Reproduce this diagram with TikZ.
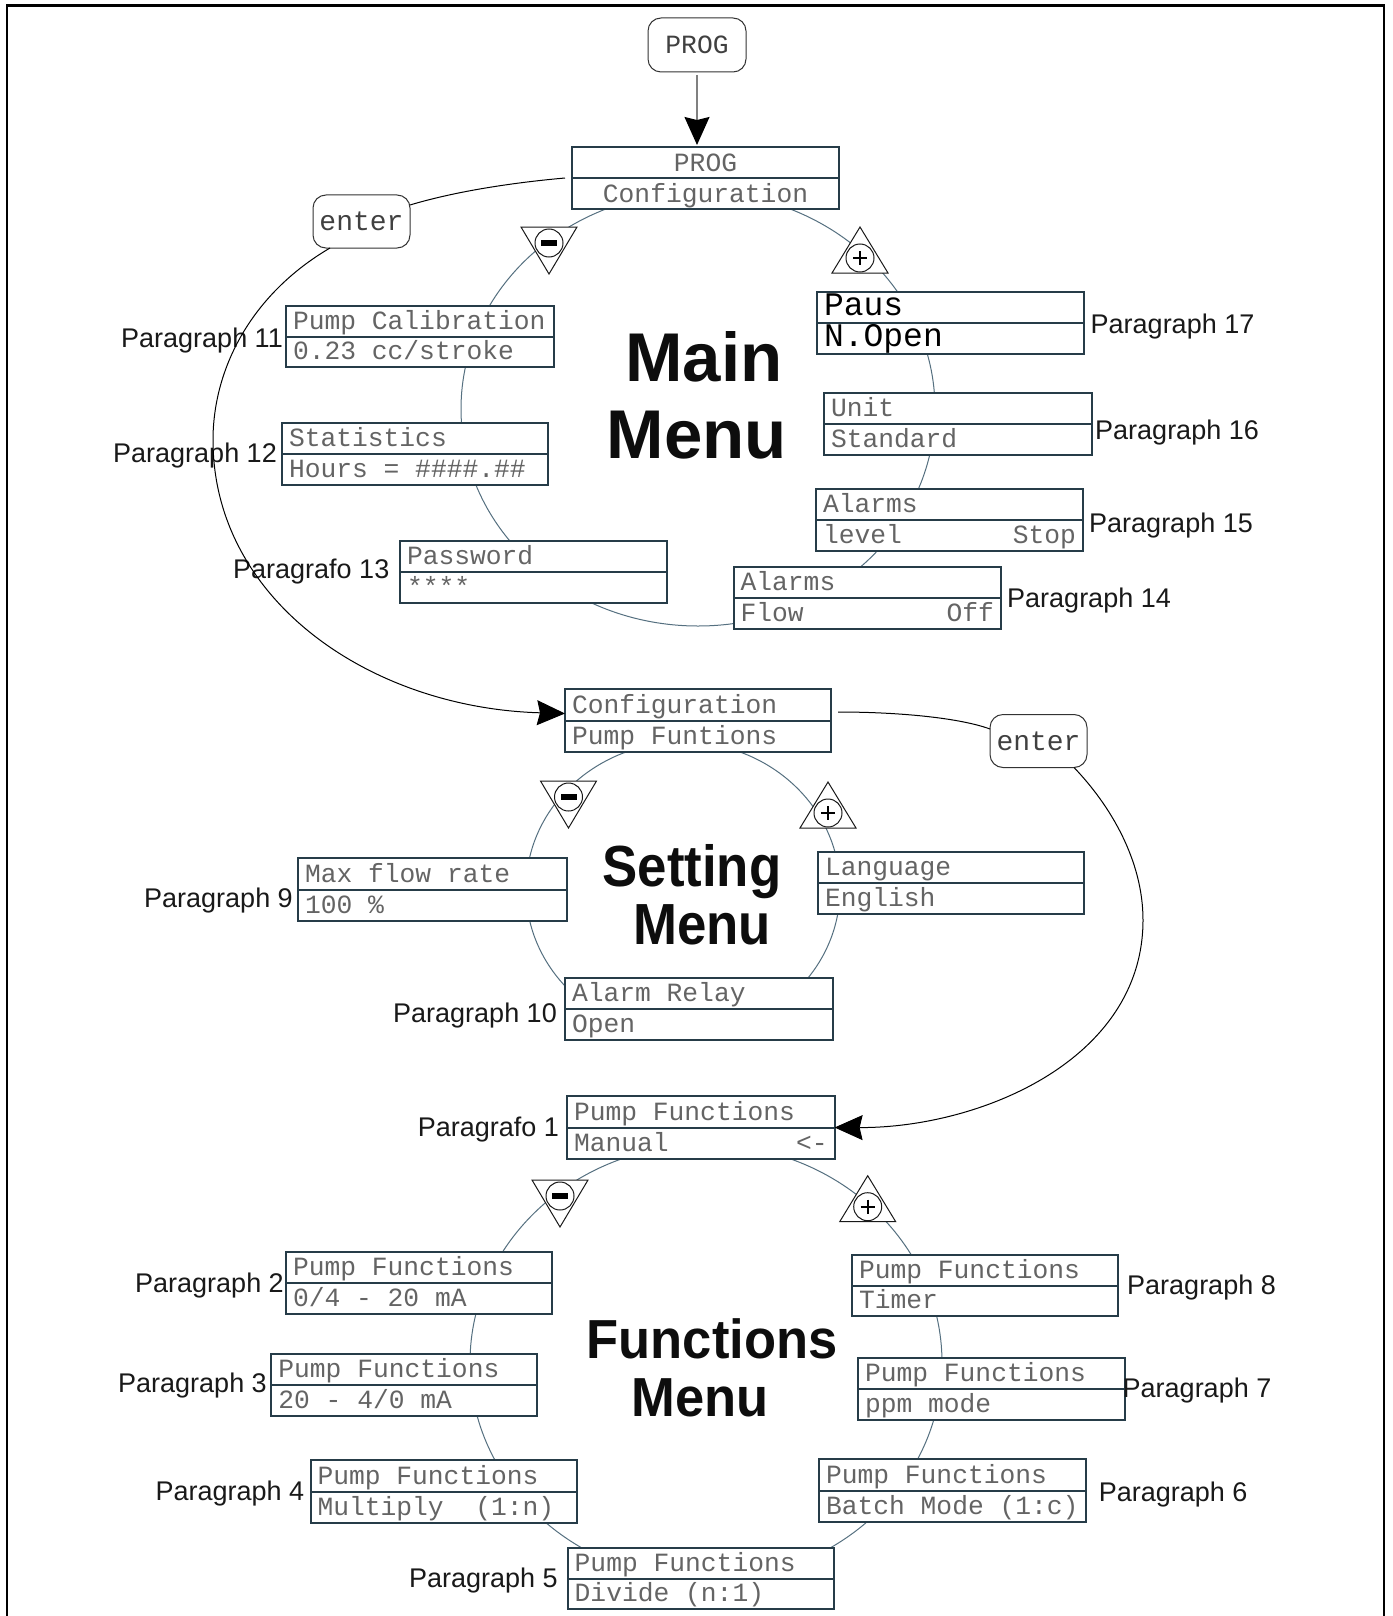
\documentclass[tikz,border=0pt]{standalone}
\usepackage{fontspec}
\usepackage{graphicx}
\setmainfont{Liberation Sans}
\newfontfamily\monof{Liberation Mono}
\usetikzlibrary{calc,arrows.meta}
\definecolor{boxc}{RGB}{38,60,72}
\definecolor{ringc}{RGB}{85,112,128}
\definecolor{txtc}{RGB}{100,100,100}
\tikzset{
  mbox/.style={draw=boxc, line width=2pt, fill=white, inner sep=0pt, outer sep=0pt},
  divl/.style={draw=boxc, line width=2pt},
  mtext/.style={font=\monof\fontsize{26.3}{30}\selectfont, text=txtc, inner sep=0pt, outer sep=0pt},
  ring/.style={draw=ringc, line width=1pt},
  enterbox/.style={draw=black!80, line width=1pt, rounded corners=13pt, fill=white,
     minimum width=97pt, minimum height=53pt, inner sep=0pt, outer sep=0pt,
     font=\monof\fontsize{28}{30}\selectfont, text=black!75},
  plabel/.style={font=\fontsize{27}{30}\selectfont, text=black!90, inner sep=0pt, anchor=base west},
  tri/.style={draw=black!90, line width=1pt, fill=white},
  enterline/.style={draw=black, line width=1pt},
  bigarrow/.style={-{Stealth[length=28pt,width=25pt,inset=3pt,color=black]}},
  titlef/.style={font=\bfseries\fontsize{69}{72}\selectfont, inner sep=0pt, anchor=base, text=black!95},
}
% name, x1, y1, x2, y2, top text, bottom text, bottom right text
\newcommand{\menubox}[8]{%
  \node[mbox, minimum width={#4-#2}, minimum height={#5-#3}] (#1) at ({(#2+#4)/2},{(#3+#5)/2}) {};
  \draw[divl] (#1.west) -- (#1.east);
  \node[mtext, anchor=base west] at ($(#1.north west)+(7,{(#5-#3)/2-7.5})$) {#6};
  \node[mtext, anchor=base west] at ($(#1.south west)+(7,-7.5)$) {#7};
  \node[mtext, anchor=base east] at ($(#1.south east)+(-7,-7.5)$) {#8};
}
% name, centre x, top y
\newcommand{\minustri}[3]{%
  \coordinate (#1) at (#2,#3+23);
  \draw[tri] (#2-28,#3) -- (#2+28,#3) -- (#2,#3+47) -- cycle;
  \draw[tri] (#2,#3+16) circle[radius=14];
  \fill[black] (#2-8,#3+13) rectangle (#2+8,#3+19);
}
% name, centre x, apex y
\newcommand{\plustri}[3]{%
  \coordinate (#1) at (#2,#3+23);
  \draw[tri] (#2,#3) -- (#2+28,#3+46) -- (#2-28,#3+46) -- cycle;
  \draw[tri] (#2,#3+31) circle[radius=14];
  \draw[black, line width=1.6pt] (#2-7,#3+31) -- (#2+7,#3+31) (#2,#3+24) -- (#2,#3+38);
}
\begin{document}
\begin{tikzpicture}[x=1pt,y=-1pt]
\useasboundingbox (0,0) rectangle (1392,1616);
\fill[white] (0,0) rectangle (1392,1616);
% frame
\draw[line width=2.2pt] (7,1630) -- (7,5.5) -- (1384,5.5) -- (1384,1630);

% rings
\draw[ring] (698,409) ellipse [x radius=237, y radius=217];
\draw[ring] (683,889) ellipse [x radius=157, y radius=147];
\draw[ring] (706,1362.5) ellipse [x radius=236, y radius=218];

% PROG button and main box
\node[enterbox, minimum width=98pt, minimum height=54pt, font=\monof\fontsize{26.3}{30}\selectfont] (progbtn) at (697,45) {PROG};
\node[mbox, minimum width=267pt, minimum height=62pt] (mainbox) at (705.5,178) {};
\draw[divl] (mainbox.west) -- (mainbox.east);
\node[mtext, anchor=base] (mainA) at (705.5,171.5) {PROG};
\node[mtext, anchor=base] (mainB) at (705.5,202) {Configuration};
\draw[draw=black!50, line width=1.5pt, bigarrow, shorten <=3pt, shorten >=2pt] (progbtn.south) -- (progbtn.south |- mainbox.north);

% main menu items
\menubox{cal}{286}{306}{554}{367}{Pump Calibration}{0.23 cc/stroke}{}
\menubox{stat}{282}{423}{548}{485}{Statistics}{Hours = \#\#\#\#.\#\#}{}
\menubox{pwd}{400}{541}{667}{603}{Password}{****}{}
\menubox{paus}{817}{292}{1084}{354}{\fontsize{33}{36}\selectfont\color{black}Paus}{\fontsize{33}{36}\selectfont\color{black}N.Open}{}
\menubox{unit}{824}{393}{1092}{455}{Unit}{Standard}{}
\menubox{alev}{816}{489}{1083}{551}{Alarms}{level}{Stop}
\menubox{aflow}{733.6}{567}{1001}{629}{Alarms}{Flow}{Off}
\minustri{mminus}{549}{227}
\plustri{mplus}{860}{227}

\node[titlef] (mt1) at (704,381) {Main};
\node[titlef] (mt2) at (697,458) {Menu};

% setting menu
\menubox{cfg}{565}{689}{831}{752}{Configuration}{Pump Funtions}{}
\menubox{lang}{818}{852}{1084}{914}{Language}{English}{}
\menubox{maxf}{298}{858}{567}{921}{Max flow rate}{100 \%}{}
\menubox{relay}{565}{978}{832.6}{1040}{Alarm Relay}{Open}{}
\minustri{sminus}{568.5}{781}
\plustri{splus}{828}{782}
\node[titlef, font=\bfseries\fontsize{58}{60}\selectfont] (st1) at (692,886) {\scalebox{0.91}[1]{Setting}};
\node[titlef, font=\bfseries\fontsize{58}{60}\selectfont] (st2) at (702,944) {\scalebox{0.91}[1]{Menu}};

% functions menu
\menubox{manual}{567}{1096}{834.6}{1159}{Pump Functions}{Manual}{<-}
\menubox{ftwo}{286}{1251.6}{551.6}{1313.5}{Pump Functions}{0/4 - 20 mA}{}
\menubox{fthree}{271.4}{1353.5}{537}{1416}{Pump Functions}{20 - 4/0 mA}{}
\menubox{ffour}{310.5}{1460}{577}{1523.4}{Pump Functions}{Multiply\ \ (1:n)}{}
\menubox{ffive}{567.7}{1548}{833.7}{1609}{Pump Functions}{Divide (n:1)}{}
\menubox{fsix}{819}{1459}{1086}{1522}{Pump Functions}{Batch Mode (1:c)}{}
\menubox{fseven}{858}{1358}{1124.5}{1420}{Pump Functions}{ppm mode}{}
\menubox{feight}{852}{1255}{1118}{1316}{Pump Functions}{Timer}{}
\minustri{fminus}{560}{1180}
\plustri{fplus}{867.7}{1175.7}
\node[titlef, font=\bfseries\fontsize{55}{58}\selectfont] (ft1) at (712,1358) {\scalebox{0.955}[1]{Functions}};
\node[titlef, font=\bfseries\fontsize{55}{58}\selectfont] (ft2) at (700,1416) {\scalebox{0.955}[1]{Menu}};

% paragraph labels
\node[plabel] (p11) at (121,347) {Paragraph 11};
\node[plabel] (p12) at (113,462) {Paragraph 12};
\node[plabel] (p13) at (233,578) {Paragrafo 13};
\node[plabel] (p17) at (1090.5,333) {Paragraph 17};
\node[plabel] (p16) at (1095,439) {Paragraph 16};
\node[plabel] (p15) at (1089,532) {Paragraph 15};
\node[plabel] (p14) at (1007,607) {Paragraph 14};
\node[plabel] (p9) at (144,907) {Paragraph 9};
\node[plabel] (p10) at (393,1022) {Paragraph 10};
\node[plabel] (p1) at (417.6,1136.4) {Paragrafo 1};
\node[plabel] (p2) at (135,1292) {Paragraph 2};
\node[plabel] (p3) at (118,1392) {Paragraph 3};
\node[plabel] (p4) at (155.4,1500.5) {Paragraph 4};
\node[plabel] (p5) at (408.8,1587) {Paragraph 5};
\node[plabel] (p8) at (1127,1294) {Paragraph 8};
\node[plabel] (p7) at (1122.5,1397) {Paragraph 7};
\node[plabel] (p6) at (1098.7,1501) {Paragraph 6};

% enter buttons and their connectors
\node[enterbox] (enterA) at (361.5,221.5) {enter};
\node[enterbox] (enterB) at (1038.5,741) {enter};

\draw[enterline] ([xshift=-7pt]mainbox.west) .. controls (520,182) and (460,190) .. ([yshift=-10pt]enterA.north east);
\draw[enterline, bigarrow] ([xshift=17pt]enterA.south west) .. controls (250,295) and (213,370) .. (213,440)
   .. controls (213,600) and (370,708) .. ([yshift=7pt]cfg.west);

\draw[enterline] ([shift={(7pt,8.5pt)}]cfg.east) .. controls (900,712) and (960,718) .. ([yshift=12pt]enterB.west);
\draw[enterline, bigarrow] ([xshift=-13pt]enterB.south east) .. controls (1110,805) and (1143,860) .. (1143,920)
   .. controls (1143,1060) and (980,1128) .. (manual.east);
\end{tikzpicture}
\end{document}
